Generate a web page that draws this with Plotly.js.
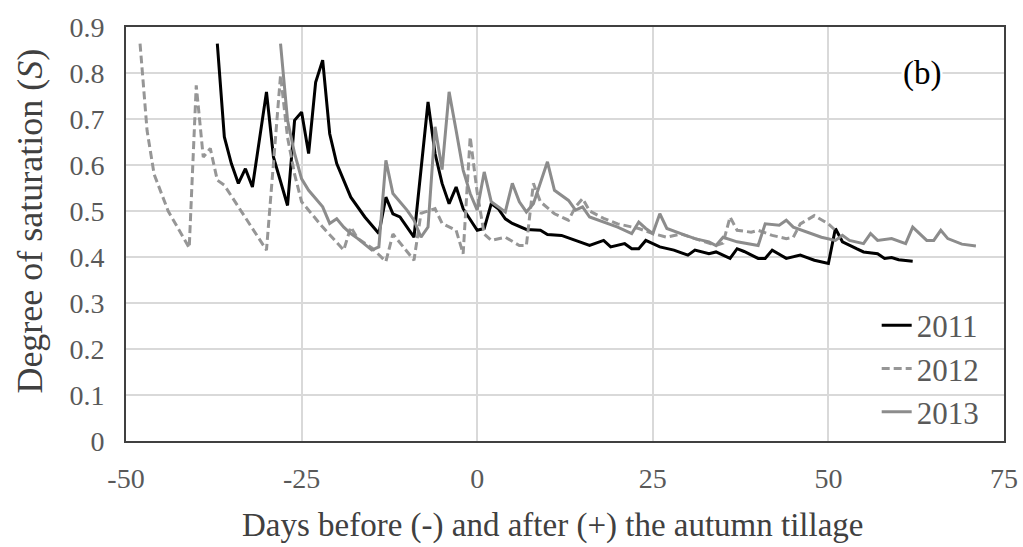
<!DOCTYPE html>
<html>
<head>
<meta charset="utf-8">
<script src="https://cdn.plot.ly/plotly-3.0.1.min.js"></script>
<style>html,body{margin:0;padding:0;background:#fff;}#chart{width:1023px;height:547px;}</style>
</head>
<body>
<div id="chart"></div>
<script>
// 2011 series
const days2011 = [-37,-36,-35,-34,-33,-32,-30,-29,-27,-26,-25,-24,-23,-22,-21,-20,-18,-16,-14,-13,-12,-11,-9,-7,-6,-5,-4,-3,-2,0,1,2,3,4,5,7,9,10,12,14,16,18,19,21,22,23,24,26,28,30,31,33,34,36,37,38,40,41,42,44,46,48,50,51,52,54,55,57,58,59,60,62];
const s2011 = [0.864,0.661,0.603,0.56,0.592,0.552,0.759,0.617,0.512,0.697,0.715,0.625,0.78,0.828,0.668,0.603,0.53,0.487,0.451,0.53,0.494,0.487,0.443,0.737,0.625,0.56,0.516,0.552,0.505,0.458,0.462,0.516,0.505,0.483,0.473,0.46,0.458,0.449,0.447,0.436,0.425,0.436,0.422,0.429,0.418,0.418,0.436,0.422,0.415,0.404,0.415,0.407,0.411,0.397,0.418,0.412,0.397,0.397,0.415,0.397,0.404,0.393,0.386,0.462,0.433,0.418,0.411,0.407,0.397,0.399,0.394,0.391];
// 2012 series
const days2012 = [-48,-47,-46,-44,-41,-40,-39,-38,-37,-36,-30,-28,-27,-26,-25,-22,-19,-18,-17,-15,-13,-12,-9,-8,-6,-5,-3,-2,-1,0,1,2,4,6,7,8,9,11,13,14,15,16,18,20,23,25,27,29,31,34,35,36,37,39,40,42,44,45,46,48,50,51];
const s2012 = [0.864,0.675,0.58,0.50,0.42,0.773,0.617,0.636,0.567,0.556,0.415,0.795,0.66,0.58,0.52,0.465,0.415,0.465,0.44,0.42,0.39,0.45,0.393,0.495,0.505,0.473,0.458,0.407,0.661,0.54,0.45,0.436,0.443,0.425,0.425,0.56,0.52,0.494,0.48,0.509,0.527,0.50,0.484,0.472,0.462,0.451,0.443,0.45,0.44,0.425,0.43,0.487,0.458,0.454,0.458,0.447,0.44,0.443,0.472,0.49,0.472,0.458];
// 2013 series
const days2013 = [-28,-27,-26,-25,-24,-22,-21,-20,-19,-18,-17,-15,-14,-13,-12,-10,-9,-8,-7,-6,-5,-4,-3,-2,-1,0,1,2,4,5,6,7,8,10,11,13,14,15,16,18,20,22,23,24,25,26,27,29,31,33,34,35,37,40,41,43,44,45,47,49,51,52,53,55,56,57,59,61,62,64,65,66,67,69,71];
const s2013 = [0.864,0.697,0.625,0.57,0.545,0.509,0.473,0.483,0.465,0.451,0.44,0.415,0.422,0.61,0.538,0.502,0.48,0.443,0.465,0.683,0.59,0.759,0.675,0.589,0.538,0.502,0.585,0.52,0.498,0.56,0.52,0.498,0.516,0.607,0.545,0.523,0.502,0.509,0.487,0.476,0.465,0.451,0.476,0.462,0.451,0.494,0.462,0.451,0.44,0.433,0.425,0.443,0.433,0.425,0.472,0.469,0.48,0.465,0.454,0.443,0.436,0.447,0.436,0.429,0.451,0.436,0.44,0.429,0.465,0.436,0.436,0.458,0.44,0.428,0.424];

const xTicks = [-50,-25,0,25,50,75];
const xTickText = ['-50','-25','0','25','50','75'];
const yTicks = [0,0.1,0.2,0.3,0.4,0.5,0.6,0.7,0.8,0.9];
const yTickText = ['0','0.1','0.2','0.3','0.4','0.5','0.6','0.7','0.8','0.9'];

const FONT = '"Liberation Serif", "Times New Roman", serif';

const traces = [
  {x: days2011, y: s2011, name: '2011', mode: 'lines', line: {color: '#000000', width: 3}},
  {x: days2012, y: s2012, name: '2012', mode: 'lines', line: {color: '#969696', width: 3, dash: '8px,4px'}},
  {x: days2013, y: s2013, name: '2013', mode: 'lines', line: {color: '#8c8c8c', width: 3}}
];

const layout = {
  width: 1023, height: 547,
  margin: {l: 126, r: 19, t: 27, b: 106},
  paper_bgcolor: '#ffffff', plot_bgcolor: '#ffffff',
  font: {family: FONT, color: '#595959', size: 24},
  showlegend: true,
  legend: {x: 0.855, y: 0.006, xanchor: 'left', yanchor: 'bottom', bgcolor: 'rgba(0,0,0,0)', borderwidth: 0,
           font: {family: FONT, size: 31, color: '#595959'}, tracegroupgap: 0},
  xaxis: {range: [-50, 75], tickvals: xTicks, ticktext: xTickText, ticks: '', showgrid: true, gridcolor: '#d9d9d9', gridwidth: 2,
          zeroline: false, showline: true, linecolor: '#404040', linewidth: 2, mirror: true,
          ticklabelstandoff: 11,
          tickfont: {family: FONT, size: 28, color: '#595959'}},
  yaxis: {range: [0, 0.9], tickvals: yTicks, ticktext: yTickText, ticks: '', showgrid: true, gridcolor: '#d9d9d9', gridwidth: 2,
          zeroline: false, showline: true, linecolor: '#404040', linewidth: 2, mirror: true,
          ticklabelstandoff: 14,
          tickfont: {family: FONT, size: 28, color: '#595959'}},
  annotations: [
    {xref: 'x', yref: 'y', x: 63.3, y: 0.8, text: '(b)', showarrow: false, bgcolor: '#ffffff',
     font: {family: FONT, size: 33, color: '#000000'}},
    {xref: 'paper', yref: 'paper', x: 0.486, y: -0.203, xanchor: 'center', yanchor: 'middle', showarrow: false,
     text: 'Days before (-) and after (+) the autumn tillage', font: {family: FONT, size: 33, color: '#404040'}},
    {xref: 'paper', yref: 'paper', x: -0.1093, y: 0.53, xanchor: 'center', yanchor: 'middle', showarrow: false, textangle: -90,
     text: 'Degree of saturation (<i>S</i>)', font: {family: FONT, size: 36, color: '#404040'}}
  ]
};

Plotly.newPlot('chart', traces, layout, {displayModeBar: false, staticPlot: true});
</script>
</body>
</html>
